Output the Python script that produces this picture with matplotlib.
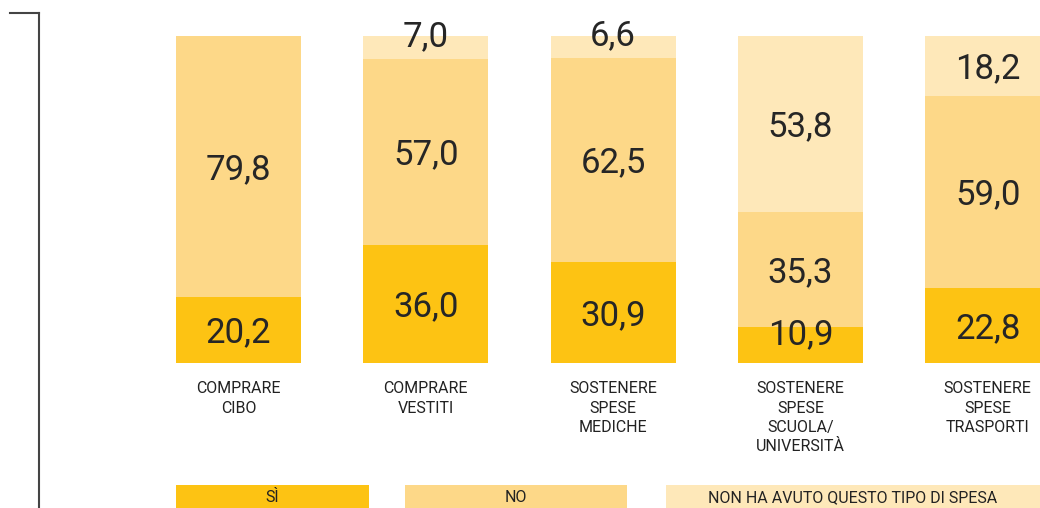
import matplotlib
matplotlib.use("Agg")
import matplotlib.pyplot as plt
from matplotlib.patches import Rectangle
from matplotlib.lines import Line2D

categories = ["COMPRARE\nCIBO", "COMPRARE\nVESTITI", "SOSTENERE\nSPESE\nMEDICHE",
              "SOSTENERE\nSPESE\nSCUOLA/\nUNIVERSITÀ", "SOSTENERE\nSPESE\nTRASPORTI"]
si = [20.2, 36.0, 30.9, 10.9, 22.8]
no = [79.8, 57.0, 62.5, 35.3, 59.0]
non_ha = [0.0, 7.0, 6.6, 53.8, 18.2]
series_names = ["SÌ", "NO", "NON HA AVUTO QUESTO TIPO DI SPESA"]
colors = ["#FDC313", "#FDD888", "#FEE8B9"]

plt.rcParams['font.family'] = ['Roboto', 'DejaVu Sans']
W, H = 1040, 508
fig = plt.figure(figsize=(W/100, H/100), dpi=100)
ax = fig.add_axes([0, 1-363/H, 1, (363-36)/H])
step = 187.3
ax.set_xlim(-238.5/step, (W-238.5)/step)
ax.set_ylim(0, 100)
ax.axis('off')

x = list(range(len(categories)))
bw = 125/step
fs = 25
cap = 0.711 * fs
bottoms = [0]*len(x)
for vals, c in zip([si, no, non_ha], colors):
    ax.bar(x, vals, width=bw, bottom=bottoms, color=c, linewidth=0, clip_on=False)
    for i, v in enumerate(vals):
        if v <= 0:
            continue
        yc = bottoms[i] + v/2
        dy = -cap/2 if v >= 12 else 1
        ax.annotate(f"{v:.1f}".replace('.', ','), (i, yc), xytext=(0, dy),
                    textcoords='offset points', ha='center', va='baseline',
                    fontsize=fs, fontweight='normal', color='#262626')
    bottoms = [b+v for b, v in zip(bottoms, vals)]

for i, lab in enumerate(categories):
    ax.text(i, -5.6, lab, ha='center', va='top', fontsize=11.5, color='#222222',
            linespacing=1.35)

# bracket
fig.add_artist(Line2D([10/W, 39/W], [1-13/H, 1-13/H], color='#444444', lw=1.5))
fig.add_artist(Line2D([39/W, 39/W], [1-13/H, 0], color='#444444', lw=1.5))

# legend
legend_boxes = [(176, 369), (405, 627), (666, 1040)]
for (x0, x1), name, c in zip(legend_boxes, series_names, colors):
    fig.add_artist(Rectangle((x0/W, 0), (x1-x0)/W, 23/H, transform=fig.transFigure,
                             facecolor=c, edgecolor='none'))
    fig.text((x0+x1)/2/W, 10/H, name, ha='center', va='center', fontsize=11.5,
             color='#222222')

fig.savefig("out.png", dpi=100)
